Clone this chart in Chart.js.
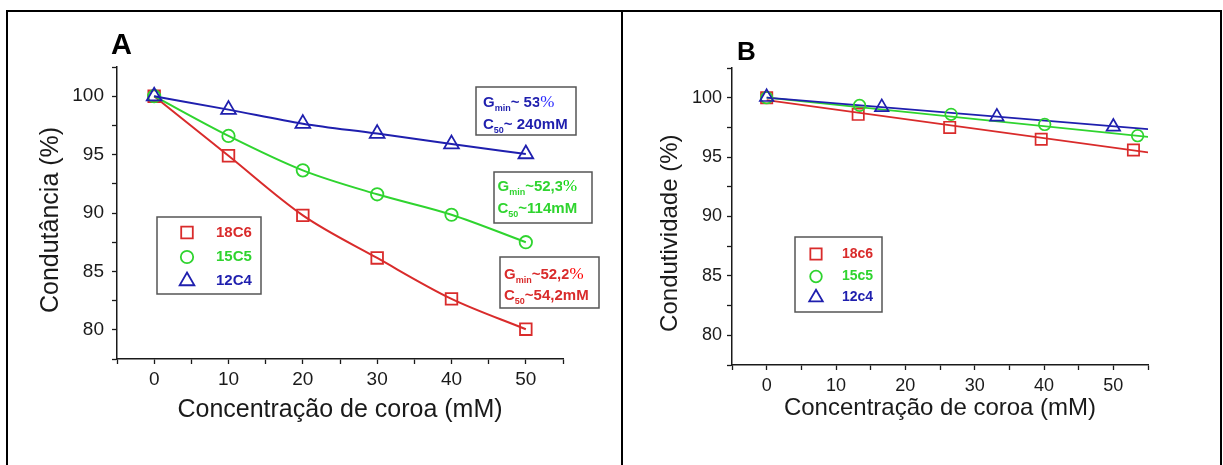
<!DOCTYPE html>
<html>
<head>
<meta charset="utf-8">
<script src="https://cdn.jsdelivr.net/npm/chart.js@4.4.1/dist/chart.umd.min.js"></script>
<style>
  html, body { margin: 0; background: #fff; }
  #fig { position: relative; width: 1223px; height: 465px; overflow: hidden; }
  #frame { position: absolute; left: 6px; top: 10px; width: 1212px; height: 470px; border: 2px solid #000; pointer-events: none; }
  #divider { position: absolute; left: 621px; top: 10px; width: 2px; height: 455px; background: #000; }
  canvas { position: absolute; top: 0; }
  #cA { left: 0; }
  #cB { left: 622px; }
</style>
</head>
<body>
<div id="fig">
  <canvas id="cA" width="622" height="465"></canvas>
  <canvas id="cB" width="601" height="465"></canvas>
  <div id="frame"></div>
  <div id="divider"></div>
</div>
<script>
// Conductance of the membrane vs crown-ether concentration (panels A and B).

const RED = "#d92b2b", GREEN = "#2fd42f", BLUE = "#1f1fae";
const INK = "#1a1a1a";
const FONT = "'Liberation Sans', Arial, Helvetica, sans-serif";

// ── Panel A data ──────────────────────────────────────────────────────
const concA = [0, 10, 20, 30, 40, 50];
const condA18C6 = [100, 94.9, 89.8, 86.15, 82.65, 80.05];
const condA15C5 = [100, 96.6, 93.65, 91.6, 89.85, 87.5];
const condA12C4 = [100, 98.85, 97.65, 96.8, 95.9, 95.05];
const namesA = ["18C6", "15C5", "12C4"];
const notesA = [
  [["G", "min", "~ 53"], ["C", "50", "~ 240mM"]],
  [["G", "min", "~52,3"], ["C", "50", "~114mM"]],
  [["G", "min", "~52,2"], ["C", "50", "~54,2mM"]],
];

// ── Panel B data ──────────────────────────────────────────────────────
const concB18c6 = [0, 13.2, 26.4, 39.6, 52.9];
const condB18c6 = [100, 98.6, 97.5, 96.5, 95.6];
const concB15c5 = [0, 13.4, 26.6, 40.1, 53.5];
const condB15c5 = [100, 99.35, 98.6, 97.75, 96.8];
const concB12c4 = [0, 16.6, 33.2, 50];
const condB12c4 = [100.05, 99.2, 98.4, 97.55];
const fitX = [0, 55];                      // linear fits, read at both ends
const fitB18c6 = [99.8, 95.4];
const fitB15c5 = [100, 96.7];
const fitB12c4 = [100, 97.35];
const namesB = ["18c6", "15c5", "12c4"];

// tick labels (other tick marks stay unlabelled)
const xTickLabels = [0, 10, 20, 30, 40, 50];
const yTickLabels = [80, 85, 90, 95, 100];

const pts = (xs, ys) => xs.map((x, i) => ({ x, y: ys[i] }));

// hollow marker, same geometry as Chart.js point styles
function mark(ctx, style, x, y, r) {
  ctx.beginPath();
  if (style === "rect") {
    const s = r * Math.SQRT1_2;
    ctx.rect(x - s, y - s, 2 * s, 2 * s);
  } else if (style === "circle") {
    ctx.arc(x, y, r, 0, Math.PI * 2);
  } else {
    const a = Math.sin(Math.PI / 3) * r;
    ctx.moveTo(x, y - r);
    ctx.lineTo(x + a, y + r / 2);
    ctx.lineTo(x - a, y + r / 2);
    ctx.closePath();
  }
  ctx.stroke();
}

// Panel letter, boxed legend and the G_min / C_50 notes.
const decor = {
  id: "decor",
  afterDraw(chart, args, o) {
    const ctx = chart.ctx;
    ctx.save();
    ctx.fillStyle = "#000";
    ctx.font = `bold ${o.letter.size}px ${FONT}`;
    ctx.textBaseline = "alphabetic";
    ctx.fillText(o.letter.text, o.letter.x, o.letter.y);

    // legend
    const L = o.legend;
    ctx.strokeStyle = "#555";
    ctx.lineWidth = 1.5;
    ctx.strokeRect(L.box[0], L.box[1], L.box[2], L.box[3]);
    ctx.textBaseline = "middle";
    ctx.font = `bold ${L.size}px ${FONT}`;
    L.rows.forEach((y, i) => {
      const ds = chart.data.datasets[i];
      ctx.strokeStyle = ds.borderColor;
      ctx.lineWidth = 1.8;
      mark(ctx, ds.pointStyle, L.mx, y, ds.pointRadius);
      ctx.fillStyle = ds.borderColor;
      ctx.fillText(ds.label, L.tx, y);
    });

    // notes
    (o.notes || []).forEach((n) => {
      ctx.strokeStyle = "#555";
      ctx.lineWidth = 1.5;
      ctx.strokeRect(n.box[0], n.box[1], n.box[2], n.box[3]);
      ctx.textBaseline = "alphabetic";
      n.lines.forEach((ln, k) => {
        let x = n.tx;
        const y = n.base[k];
        ctx.fillStyle = n.color;
        ctx.font = `bold 15px ${FONT}`;
        ctx.fillText(ln[0], x, y);
        x += ctx.measureText(ln[0]).width;
        ctx.font = `bold 9px ${FONT}`;
        ctx.fillText(ln[1], x, y + 4);
        x += ctx.measureText(ln[1]).width;
        ctx.font = `bold 15px ${FONT}`;
        ctx.fillText(ln[2], x, y);
        x += ctx.measureText(ln[2]).width;
        if (k === 0) {                     // pasted-over "%" in a serif face
          ctx.font = `17px 'Liberation Serif', 'Times New Roman', serif`;
          const w = ctx.measureText("%").width;
          ctx.fillStyle = "#fff";
          ctx.fillRect(x - 1, y - 14, w + 10, 18);
          ctx.fillStyle = n.pct;
          ctx.fillText("%", x, y);
        }
      });
    });
    ctx.restore();
  },
};

function axes(o) {
  const border = { display: true, color: INK, width: 1.5 };
  const grid = { display: true, drawOnChartArea: false, drawTicks: true, tickLength: 5, tickColor: INK, tickWidth: 1.3 };
  return {
    x: {
      type: "linear", min: -5, max: 55,
      afterFit: (s) => { s.height = o.xh; },
      border, grid,
      ticks: {
        stepSize: 5, autoSkip: false, maxRotation: 0, padding: o.xpad, color: INK,
        font: { family: FONT, size: o.tick },
        callback: (v) => (xTickLabels.includes(v) ? v : ""),
      },
      title: {
        display: true, text: "Concentração de coroa (mM)", color: INK,
        font: { family: FONT, size: o.title }, padding: { top: 0, bottom: o.xtpad },
      },
    },
    y: {
      type: "linear", min: 77.5, max: 102.5,
      afterFit: (s) => { s.width = o.yw; },
      border, grid,
      ticks: {
        stepSize: 2.5, autoSkip: false, padding: o.ypad, color: INK,
        font: { family: FONT, size: o.tick },
        callback: (v) => (yTickLabels.includes(v) ? v : ""),
      },
      title: {
        display: true, text: o.yt, color: INK,
        font: { family: FONT, size: o.title }, padding: { top: o.ytpad, bottom: 0 },
      },
    },
  };
}

const BASE = { responsive: false, animation: false, events: [] };

// ── Panel A ───────────────────────────────────────────────────────────
function seriesA(label, ys, color, style, r, order) {
  return {
    label, data: pts(concA, ys), order,
    borderColor: color, backgroundColor: "rgba(0,0,0,0)", borderWidth: 2,
    cubicInterpolationMode: "monotone",
    pointStyle: style, pointRadius: r, pointBorderWidth: 1.8,
    pointBorderColor: color, pointBackgroundColor: "rgba(0,0,0,0)",
  };
}

new Chart(document.getElementById("cA"), {
  type: "line",
  data: {
    datasets: [
      seriesA(namesA[0], condA18C6, RED, "rect", 8.2, 2),
      seriesA(namesA[1], condA15C5, GREEN, "circle", 6.2, 1),
      seriesA(namesA[2], condA12C4, BLUE, "triangle", 8.5, 0),
    ],
  },
  options: {
    ...BASE,
    layout: { padding: { left: 0, top: 67, right: 59, bottom: 0 } },
    scales: axes({
      xh: 106, yw: 117, tick: 19, title: 25, xpad: 4, ypad: 8,
      xtpad: 40, ytpad: 36, yt: "Condutância (%)  ",
    }),
    plugins: {
      legend: { display: false }, tooltip: { enabled: false },
      decor: {
        letter: { text: "A", x: 111, y: 54, size: 29 },
        legend: { box: [157, 217, 104, 77], mx: 187, tx: 216, size: 15, rows: [232.5, 257, 281] },
        notes: [
          { box: [476, 87, 100, 48], tx: 483, base: [107, 128.5], color: BLUE, pct: "#2a2aff", lines: notesA[0] },
          { box: [494, 172, 98, 51], tx: 497.5, base: [191, 213], color: GREEN, pct: "#00d400", lines: notesA[1] },
          { box: [500, 257, 99, 51], tx: 504, base: [278.5, 299.5], color: RED, pct: "#ff0000", lines: notesA[2] },
        ],
      },
    },
  },
  plugins: [decor],
});

// ── Panel B ───────────────────────────────────────────────────────────
function markersB(label, xs, ys, color, style, r, order) {
  return {
    label, data: pts(xs, ys), order, showLine: false,
    borderColor: color, backgroundColor: "rgba(0,0,0,0)",
    pointStyle: style, pointRadius: r, pointBorderWidth: 1.7,
    pointBorderColor: color, pointBackgroundColor: "rgba(0,0,0,0)",
  };
}
function fitB(ys, color, order) {
  return {
    label: "", data: pts(fitX, ys), order, showLine: true,
    borderColor: color, borderWidth: 1.8, pointRadius: 0,
  };
}

new Chart(document.getElementById("cB"), {
  type: "scatter",
  data: {
    datasets: [
      markersB(namesB[0], concB18c6, condB18c6, RED, "rect", 8, 2),
      markersB(namesB[1], concB15c5, condB15c5, GREEN, "circle", 5.8, 1),
      markersB(namesB[2], concB12c4, condB12c4, BLUE, "triangle", 7.8, 0),
      fitB(fitB18c6, RED, 5),
      fitB(fitB15c5, GREEN, 4),
      fitB(fitB12c4, BLUE, 3),
    ],
  },
  options: {
    ...BASE,
    layout: { padding: { left: 0, top: 68, right: 75, bottom: 0 } },
    scales: axes({
      xh: 100, yw: 110, tick: 18, title: 24, xpad: 5, ypad: 5,
      xtpad: 42, ytpad: 34, yt: "Condutividade (%)     ",
    }),
    plugins: {
      legend: { display: false }, tooltip: { enabled: false },
      decor: {
        letter: { text: "B", x: 115, y: 60, size: 26 },
        legend: { box: [173, 237, 87, 75], mx: 194, tx: 220, size: 14, rows: [254, 276.5, 297.5] },
        notes: [],
      },
    },
  },
  plugins: [decor],
});
</script>
</body>
</html>
